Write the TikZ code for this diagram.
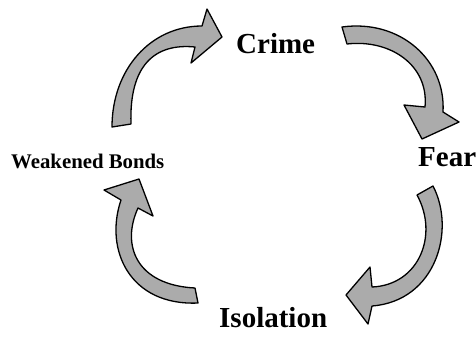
\documentclass[tikz,border=0pt]{standalone}
\usepackage{fontspec}
\setmainfont{Liberation Serif}
\begin{document}
\begin{tikzpicture}[x=1pt,y=-1pt,
  blockarrow/.style={draw=black,line width=1.3pt,fill=black!33,line join=round},
  biglabel/.style={anchor=base west,inner sep=0pt,font=\fontsize{29}{31}\selectfont\bfseries},
  smalllabel/.style={anchor=base west,inner sep=0pt,font=\fontsize{20.8}{22}\selectfont\bfseries}]
\useasboundingbox (0,0) rectangle (476,341);
\node[biglabel] (crime) at (236,53) {Crime};
\node[biglabel] (fear) at (418,166) {Fear};
\node[biglabel] (isolation) at (219,327) {Isolation};
\node[smalllabel] (bonds) at (11,168) {Weakened Bonds};
% Weakened Bonds -> Crime
\draw[blockarrow] (112,127) .. controls (112,70) and (150,26) .. (202,26) -- (207,9) -- (222,37) -- (191,63) -- (195,47) .. controls (155,43) and (129,65) .. (131,124) -- cycle;
% Crime -> Fear
\draw[blockarrow] (342,27) .. controls (400,19) and (446,60) .. (443,112) -- (459,122) -- (422,139) -- (404,105) -- (425,107) .. controls (429,65) and (390,39) .. (347,44) -- cycle;
% Fear -> Isolation
\draw[blockarrow] (433,186) .. controls (456,230) and (436,301) .. (372,306) -- (368,324) -- (346,295) -- (370,267) -- (372,287) .. controls (419,285) and (439,235) .. (417,195) -- cycle;
% Isolation -> Weakened Bonds
\draw[blockarrow] (198,303) .. controls (130,306) and (104,250) .. (121,200) -- (104,190) -- (139,179) -- (153,216) -- (138,208) .. controls (121,245) and (136,285) .. (195,288) -- cycle;
\end{tikzpicture}
\end{document}
